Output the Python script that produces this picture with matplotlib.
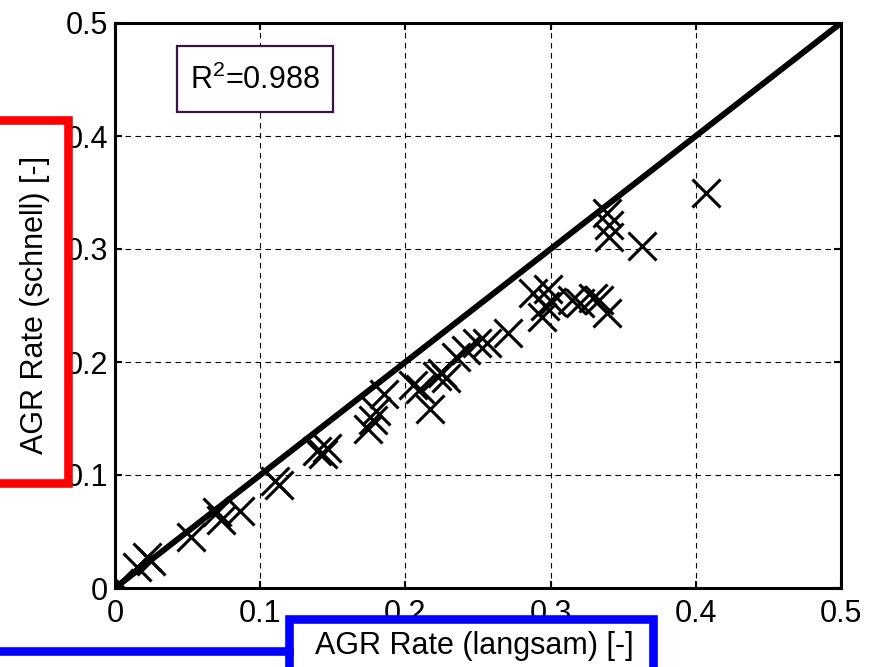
import matplotlib
matplotlib.use("Agg")
import matplotlib.pyplot as plt
from matplotlib.patches import Rectangle
from matplotlib.lines import Line2D
import numpy as np

# Werte
agr_langsam = [0.003, 0.015, 0.022, 0.025, 0.052, 0.070, 0.073, 0.086,
               0.110, 0.113, 0.139, 0.143, 0.146, 0.174, 0.178, 0.180,
               0.185, 0.205, 0.210, 0.217, 0.222, 0.225, 0.228, 0.235,
               0.242, 0.249, 0.256, 0.271, 0.288, 0.294, 0.296, 0.298,
               0.301, 0.315, 0.320, 0.329, 0.333, 0.339, 0.339, 0.340,
               0.340, 0.363, 0.407]
agr_schnell = [0.004, 0.019, 0.027, 0.024, 0.045, 0.067, 0.060, 0.068,
               0.095, 0.091, 0.121, 0.119, 0.124, 0.141, 0.149, 0.157,
               0.172, 0.180, 0.176, 0.158, 0.188, 0.190, 0.186, 0.204,
               0.211, 0.217, 0.217, 0.226, 0.261, 0.240, 0.250, 0.265,
               0.253, 0.255, 0.252, 0.257, 0.255, 0.243, 0.332, 0.321,
               0.311, 0.303, 0.350]
ticks = [0, 0.1, 0.2, 0.3, 0.4, 0.5]
tick_labels = ["0", "0.1", "0.2", "0.3", "0.4", "0.5"]
r2_text = "R$^2$=0.988"

plt.rcParams['font.family'] = ['Liberation Sans', 'DejaVu Sans']
plt.rcParams['mathtext.fontset'] = 'custom'
plt.rcParams['mathtext.rm'] = 'Liberation Sans'
plt.rcParams['mathtext.default'] = 'rm'

W, H = 878, 667
fig = plt.figure(figsize=(W / 100, H / 100), dpi=100)


def fx(px):
    return px / W


def fy(py):
    return 1 - py / H


ax = fig.add_axes([fx(115), fy(588), fx(841) - fx(115), fy(23) - fy(588)])

# Diagonale und Messpunkte
ax.plot([0, 0.5], [0, 0.5], color="black", linewidth=4.3, zorder=3)
ax.plot(agr_langsam, agr_schnell, linestyle="none", marker="x",
        markersize=20, markeredgewidth=2.2, color="black", zorder=4)

ax.set_xlim(0, 0.5)
ax.set_ylim(0, 0.5)
ax.set_xticks(ticks)
ax.set_yticks(ticks)
ax.set_xticklabels(tick_labels)
ax.set_yticklabels(tick_labels)
ax.tick_params(direction="in", length=5, width=1.5, top=True, right=True,
               labelsize=22)
ax.tick_params(axis="y", pad=5)
ax.tick_params(axis="x", pad=8)
ax.grid(True, color="black", linestyle=(0, (5, 4)), linewidth=0.8)
for s in ax.spines.values():
    s.set_linewidth(2.2)

# R^2 Kasten
ax.add_patch(Rectangle((0.0854, 0.8425), 0.2146, 0.1165, transform=ax.transAxes,
                       facecolor="white", edgecolor="#3d1245", linewidth=1.6,
                       zorder=5))
ax.text(fx(255), fy(80), r2_text, transform=fig.transFigure, fontsize=22,
        ha="center", va="center", zorder=6)

# roter Kasten um y-Beschriftung
fig.add_artist(Rectangle((fx(-20), fy(482.5)), fx(67.5) - fx(-20), fy(120) - fy(482.5),
                         transform=fig.transFigure, facecolor="white",
                         edgecolor="#ff0000", linewidth=6.2, zorder=10))
fig.text(fx(35), fy(305), "AGR Rate (schnell) [-]", rotation=90, fontsize=22,
         ha="center", va="center", zorder=11)

# blauer Kasten um x-Beschriftung
fig.add_artist(Rectangle((fx(289), fy(700)), fx(653) - fx(289), fy(619) - fy(700),
                         transform=fig.transFigure, facecolor="white",
                         edgecolor="#0000ff", linewidth=6.2, zorder=10))
fig.add_artist(Line2D([fx(-5), fx(289)], [fy(651), fy(651)], transform=fig.transFigure,
                      color="#0000ff", linewidth=6.2, zorder=10))
fig.text(fx(474), fy(646), "AGR Rate (langsam) [-]", fontsize=22,
         ha="center", va="center", zorder=11)

fig.savefig("out.png", dpi=100)
